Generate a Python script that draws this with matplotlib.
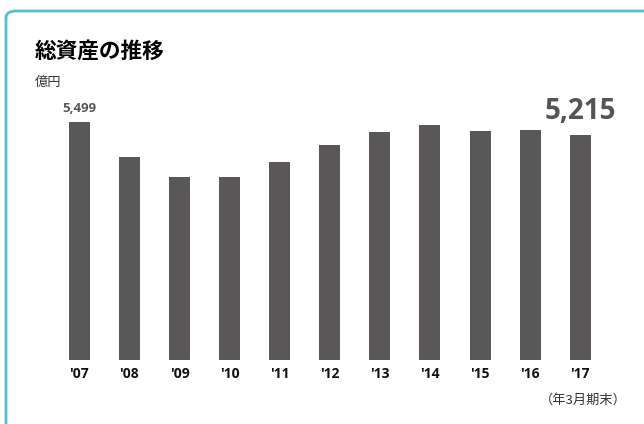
import matplotlib
matplotlib.use('Agg')
from matplotlib import pyplot as plt
from matplotlib.patches import FancyBboxPatch

plt.rcParams['font.family'] = ['Noto Sans CJK JP', 'DejaVu Sans']

# 総資産（億円）
years = ["'07", "'08", "'09", "'10", "'11", "'12", "'13", "'14", "'15", "'16", "'17"]
total_assets = [5499, 4697, 4235, 4235, 4582, 4982, 5276, 5438, 5299, 5322, 5215]

bar_color = '#595757'
frame_color = '#4fc1d3'
num_font = ['Open Sans', 'DejaVu Sans']

W, H = 644, 424
fig = plt.figure(figsize=(W / 100, H / 100), dpi=100)

# frame: rounded top-left corner, runs off the right and bottom edges
frame = FancyBboxPatch((6 / W, -0.2), 1.2, (H - 11) / H + 0.2,
                       boxstyle='round,pad=0,rounding_size=0.016',
                       transform=fig.transFigure, fill=False,
                       edgecolor=frame_color, linewidth=2, zorder=0)
fig.patches.append(frame)

ax = fig.add_axes([54.25 / W, 64 / H, 551 / W, 260 / H])
x = range(len(years))
ax.bar(x, total_assets, width=0.42, color=bar_color)
ax.set_xlim(-0.5, len(years) - 0.5)
ax.set_ylim(0, 260 * 23.14)
ax.set_xticks(list(x))
ax.set_xticklabels(years, fontsize=10, fontweight='bold', color='#111111',
                   family=num_font)
ax.tick_params(axis='x', length=0, pad=5)
ax.set_yticks([])
for s in ax.spines.values():
    s.set_visible(False)

# first and last values
ax.annotate('{:,}'.format(total_assets[0]), (0, total_assets[0]),
            xytext=(0, 5), textcoords='offset points', ha='center', va='bottom',
            fontsize=9.5, fontweight='bold', color='#555555', family=num_font)
ax.annotate('{:,}'.format(total_assets[-1]), (len(years) - 1, total_assets[-1]),
            xytext=(0, 6), textcoords='offset points', ha='center', va='bottom',
            fontsize=20, fontweight='bold', color='#555555', family=num_font)

fig.text(35 / W, 1 - 51 / H, '総資産の推移', fontsize=15.6, fontweight='bold',
         color='#000000', va='center', ha='left')
fig.text(35 / W, 1 - 82 / H, '億円', fontsize=9.5, color='#333333',
         va='center', ha='left')
fig.text(627 / W, 1 - 400 / H, '（年3月期末）', fontsize=9.5, color='#333333',
         va='center', ha='right')

fig.savefig('out.png', dpi=100)
